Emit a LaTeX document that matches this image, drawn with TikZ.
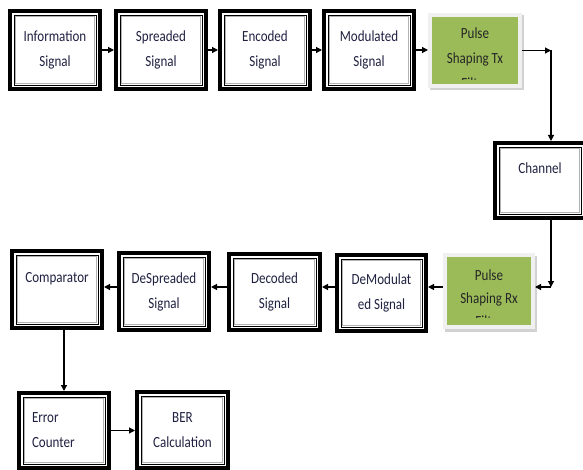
\documentclass[tikz,border=0pt]{standalone}
\usepackage{fontspec}
\setmainfont{Carlito}[FakeStretch=0.84]
\usetikzlibrary{arrows.meta}
\definecolor{pgreen}{HTML}{9BBB59}
\definecolor{txtc}{HTML}{1F2040}
\begin{document}
\begin{tikzpicture}[x=1pt,y=-1pt,
  txt/.style={font=\fontsize{15.5}{25}\selectfont, text=txtc, align=center, inner sep=0pt},
  dbox/.style={txt, draw=black, line width=4pt, minimum width=90pt, minimum height=77pt,
    path picture={
      \draw[black,line width=0.9pt] ([xshift=4pt,yshift=-4pt]path picture bounding box.north west) rectangle ([xshift=-4pt,yshift=4pt]path picture bounding box.south east);
      \draw[gray!60,line width=0.9pt] ([xshift=5.6pt,yshift=-5.6pt]path picture bounding box.north west) rectangle ([xshift=-5.6pt,yshift=5.6pt]path picture bounding box.south east);
    }},
  gbox/.style={fill=pgreen, draw=gray!12, line width=4pt, inner sep=0pt,
    preaction={draw=gray!35, line width=4pt, transform canvas={shift={(1.5pt,-2.5pt)}}}},
  arr/.style={line width=1.2pt, -{Triangle[length=6pt,width=6pt]}},
]
\useasboundingbox (0,0) rectangle (583,470);
% top row
\node[dbox, minimum height=78pt] (info) at (55,50) {Information\\Signal};
\node[dbox, minimum height=78pt] (spr) at (161,50) {Spreaded\\Signal};
\node[dbox, minimum height=78pt] (enc) at (265,50) {Encoded\\Signal};
\node[dbox, minimum height=78pt] (mod) at (369,50) {Modulated\\Signal};
\node[gbox, minimum width=90pt, minimum height=71pt] (tx) at (475,50.5) {};
\begin{scope}
  \clip (430,15) rectangle (520,80);
  \node[txt, text=black!85] (txt) at (475,58) {Pulse\\Shaping Tx\\Filter};
\end{scope}
% channel
\node[dbox, minimum height=75pt] (chan) at (540,180.5) {Channel\\~};
% bottom row
\node[gbox, minimum width=88pt, minimum height=72pt] (rx) at (489,291) {};
\begin{scope}
  \clip (445,255) rectangle (533,317.5);
  \node[txt, text=black!85, font=\fontsize{15.5}{23}\selectfont] (rxt) at (489,298) {Pulse\\Shaping Rx\\Filter};
\end{scope}
\node[dbox, minimum width=89pt, minimum height=76pt] (demod) at (381.5,293) {DeModulat\\ed Signal};
\node[dbox, minimum width=91pt, minimum height=76pt] (dec) at (274.5,292) {Decoded\\Signal};
\node[dbox] (despr) at (164,291.5) {DeSpreaded\\Signal};
\node[dbox] (comp) at (57,289.5) {Comparator\\~};
% last row
\node[dbox, minimum height=75pt, text width=64pt, align=left] (errc) at (64,430.5) {Error\\Counter};
\node[dbox, minimum width=91pt, minimum height=76pt] (ber) at (182.5,430) {BER\\Calculation};
% connectors
\coordinate (c1) at (551,50.5);
\coordinate (c2) at (551,287);
\draw[arr] (info) -- (spr);
\draw[arr] (spr) -- (enc);
\draw[arr] (enc) -- (mod);
\draw[arr] (mod) -- (mod -| tx.west);
\draw[arr] (tx.east) -- (c1);
\draw[arr] (c1) -- (c1 |- chan.north);
\draw[arr] (c1 |- chan.south) -- (c2);
\draw[arr] (c2) -- (c2 -| rx.east);
\draw[arr] (rx.west |- c2) -- (demod.east |- c2);
\draw[arr] (demod.west |- c2) -- (dec.east |- c2);
\draw[arr] (dec.west |- c2) -- (despr.east |- c2);
\draw[arr] (despr.west |- c2) -- (comp.east |- c2);
\draw[arr] (comp.south -| errc.north) -- (errc.north);
\draw[arr] (errc.east) -- (errc.east -| ber.west);
\end{tikzpicture}
\end{document}
